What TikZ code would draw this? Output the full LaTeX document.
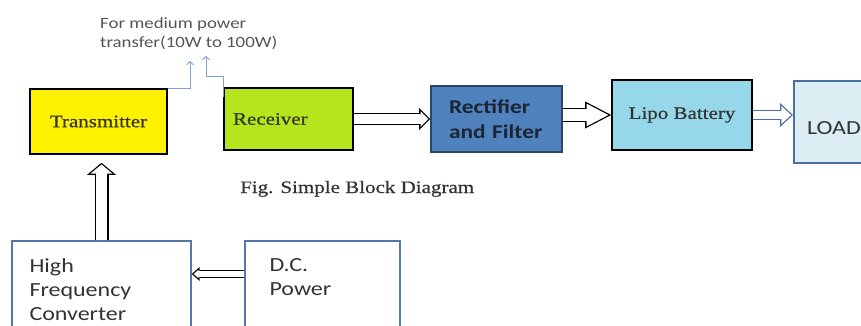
\documentclass[tikz,border=0pt]{standalone}
\usepackage{fontspec}
\setmainfont{Liberation Serif}[FakeStretch=1.2]
\setsansfont{Carlito}[FakeStretch=1.2]
\newfontfamily\boxserif{Liberation Serif}[FakeStretch=1.2, FakeBold=0.6]
\usepackage{tikz}
\usetikzlibrary{arrows.meta}
\usetikzlibrary{positioning}

\definecolor{txyellow}{HTML}{FFF200}
\definecolor{rxgreen}{HTML}{B5E61D}
\definecolor{rectblue}{HTML}{4F81BD}
\definecolor{rectedge}{HTML}{2C4566}
\definecolor{rectink}{HTML}{1C2533}
\definecolor{lipoblue}{HTML}{97D7EA}
\definecolor{loadfill}{HTML}{DCEEF4}
\definecolor{loadedge}{HTML}{4A6FA5}
\definecolor{boxedge}{HTML}{5577AA}
\definecolor{wave}{HTML}{7EA3D2}
\definecolor{note}{HTML}{555555}
\definecolor{ink}{HTML}{333333}

% hollow block arrow: colour/shaft/head length/head width
\tikzset{
  hollow/.code args={#1/#2/#3/#4}{%
    \pgfmathsetmacro\hw{#4/2}%
    \pgfmathsetmacro\ins{1.3*sqrt(\hw*\hw+#3*#3)/\hw}%
    \pgfmathsetmacro\hl{#3-\ins-1.3}%
    \pgfmathsetmacro\hwd{#4*\hl/#3}%
    \pgfmathsetmacro\sw{#2-2.6}%
    \pgfmathsetmacro\cut{\ins+0.8*\hl}%
    \edef\hollowkeys{draw=#1, line width=#2pt,
      -{Triangle[length=#3pt,width=#4pt,line width=0pt]},
      postaction={draw=white, line width=\sw pt, shorten >=\ins pt,
        -{Triangle[length=\hl pt,width=\hwd pt,line width=0pt]}},
      postaction={draw=white, line width=\sw pt, shorten >=\cut pt, arrows=-}}%
    \expandafter\pgfkeysalso\expandafter{\hollowkeys}%
  },
}

\begin{document}
\begin{tikzpicture}
    [
    x=1pt, y=1pt,
    block/.style={rectangle, draw, line width=1.6pt, inner sep=0pt},
    serif/.style={font=\boxserif\fontsize{17.5}{21}\selectfont, text=ink},
    sans/.style={font=\sffamily\fontsize{20}{24}\selectfont, text=ink},
    ]
    \clip (0,0) rectangle (861,-325);

    \node (tx) at (98.5,-121.5) [block, fill=txyellow, minimum width=137pt, minimum height=65pt, serif] {Transmitter};
    \node (rx) at (288.5,-119) [block, fill=rxgreen, minimum width=129pt, minimum height=62pt, serif, text width=111pt, align=left] {Receiver};
    \node (rect) at (496.5,-119) [block, draw=rectedge, fill=rectblue, minimum width=131pt, minimum height=66pt,
      font=\sffamily\bfseries\fontsize{19.5}{25}\selectfont, text=rectink, text width=95pt, align=left] {Rectifier\\and Filter};
    \node (lipo) at (682,-115) [block, fill=lipoblue, minimum width=140pt, minimum height=70pt, serif] {Lipo Battery};
    \node (load) at (793,-122) [anchor=west, block, draw=loadedge, line width=2pt, fill=loadfill, minimum width=100pt, minimum height=82pt,
      sans, text width=74pt, text height=26pt, align=left] {LOAD};

    \node (hf) at (101.5,-291) [block, draw=boxedge, line width=1.4pt, minimum width=179pt, minimum height=100pt] {};
    \node (hftxt) [below right=18pt and 18pt of hf.north west, sans, align=left, inner sep=0pt] {High\\Frequency\\Converter};
    \node (dc) at (322.5,-291) [block, draw=boxedge, line width=1.4pt, minimum width=155pt, minimum height=100pt] {};
    \node (dctxt) [below right=18pt and 25pt of dc.north west, sans, align=left, inner sep=0pt] {D.C.\\Power};

    \node (note) at (100,-17) [anchor=north west, font=\sffamily\fontsize{15.7}{19}\selectfont, text=note, align=left, inner sep=0pt] {For medium power\\transfer(10W to 100W)};
    \node (caption) at (240,-193) [anchor=base west, serif, inner sep=0pt] {Fig. Simple Block Diagram};

    % wireless link
    \coordinate (w1) at (190,-61);
    \coordinate (w2) at (206,-56);
    \draw [wave, line width=0.9pt, -{Straight Barb[length=3pt,width=7pt]}] (tx.north east) -| (w1);
    \draw [wave, line width=0.9pt, -{Straight Barb[length=3pt,width=7pt]}] ([yshift=-10pt]rx.north west) -- ++(0,21) -| (w2);

    % power flow
    \coordinate (txin) at ([yshift=-8pt]tx.south);
    \draw [hollow=black/14/12/29] (hf.north) -- (hf.north |- txin);
    \draw [hollow=black/8/8/14] (dc.west |- 0,-274) -- (hf.east |- 0,-274);
    \draw [hollow=black/12/11/22] (rx.east) -- (rect.west);
    \draw [hollow=black/14/26/27] (rect.east |- lipo.west) -- (lipo.west);
    \draw [hollow=loadedge/10/13/24] (lipo.east) -- (load.west |- lipo.east);
  \end{tikzpicture}
\end{document}
